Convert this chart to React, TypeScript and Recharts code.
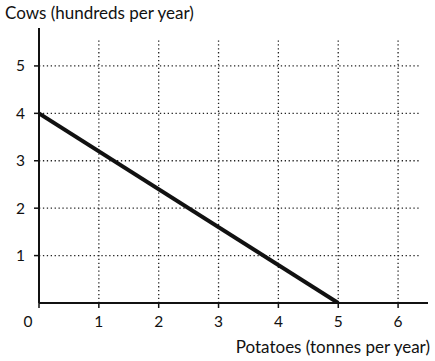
import { LineChart, Line, XAxis, YAxis, ReferenceLine } from "recharts"

const points = [
  { potatoes: 0, cows: 4 },
  { potatoes: 5, cows: 0 },
]
const xTicks = [0, 1, 2, 3, 4, 5, 6]
const yTicks = [1, 2, 3, 4, 5]
const xLabel = "Potatoes (tonnes per year)"
const yLabel = "Cows (hundreds per year)"

const font = "Lato, 'Open Sans', sans-serif"
const dotted = { stroke: "#222", strokeWidth: 1.3, strokeDasharray: "1.3 2.6" }

function XTick(props: any) {
  const { x, y, payload } = props
  const dx = payload.value === 0 ? -11 : 0
  return (
    <text x={x + dx} y={y + 17} textAnchor="middle" fontSize={15.5} fill="#111" fontFamily={font}>
      {payload.value}
    </text>
  )
}

export default function App() {
  return (
    <div style={{ position: "absolute", left: 0, top: 0, width: 435, height: 361, background: "#fff" }}>
      <div style={{ position: "absolute", left: 5, top: 2, fontSize: 17, fontFamily: font, color: "#111" }}>
        {yLabel}
      </div>
      <div style={{ position: "absolute", right: 5, top: 336, fontSize: 17, fontFamily: font, color: "#111" }}>
        {xLabel}
      </div>
      <LineChart
        width={435}
        height={361}
        data={points}
        margin={{ top: 28, right: 7, bottom: 0, left: 0 }}
        style={{ position: "absolute", left: 0, top: 0 }}
      >
        <XAxis
          type="number"
          dataKey="potatoes"
          domain={[0, 6.5]}
          ticks={xTicks}
          tick={<XTick />}
          axisLine={{ stroke: "#111", strokeWidth: 2 }}
          tickLine={{ stroke: "#111", strokeWidth: 1.5 }}
          tickSize={5}
          height={58}
          allowDataOverflow
        />
        <YAxis
          type="number"
          dataKey="cows"
          domain={[0, 5.8]}
          ticks={yTicks}
          width={39}
          axisLine={{ stroke: "#111", strokeWidth: 2 }}
          tickLine={{ stroke: "#111", strokeWidth: 1.5 }}
          tickSize={5}
          tickMargin={9}
          tick={{ fontSize: 15.5, fill: "#111", fontFamily: font }}
          allowDataOverflow
        />
        {yTicks.map((v) => (
          <ReferenceLine
            key={"h" + v}
            segment={[{ x: 0, y: v }, { x: 6.35, y: v }]}
            {...dotted}
          />
        ))}
        {xTicks.slice(1).map((v) => (
          <ReferenceLine
            key={"v" + v}
            segment={[{ x: v, y: 0 }, { x: v, y: 5.55 }]}
            {...dotted}
          />
        ))}
        <Line
          type="linear"
          dataKey="cows"
          stroke="#111"
          strokeWidth={4}
          dot={false}
          isAnimationActive={false}
        />
      </LineChart>
    </div>
  )
}
